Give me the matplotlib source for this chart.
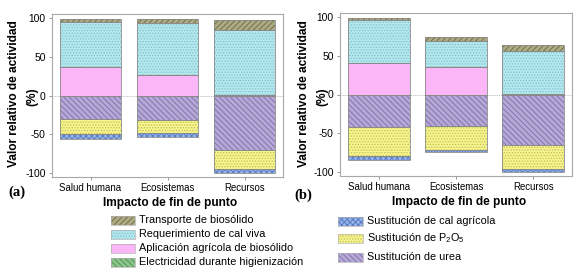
import matplotlib
matplotlib.use("Agg")
import matplotlib.pyplot as plt
from matplotlib.patches import Rectangle
import numpy as np

plt.rcParams['font.family'] = ['Liberation Sans', 'DejaVu Sans']
plt.rcParams['hatch.linewidth'] = 0.6
plt.rcParams['mathtext.default'] = 'regular'

categories = ["Salud humana", "Ecosistemas", "Recursos"]

# Panel (a)
a_aplicacion = [37, 26, 0.0]
a_electricidad = [0.3, 0.3, 0.3]
a_cal_viva = [57.7, 67.7, 84.7]
a_transporte = [3, 4, 12]
a_urea = [-30, -31, -70]
a_p2o5 = [-20, -17, -25]
a_cal_agricola = [-6, -5, -5]

# Panel (b)
b_aplicacion = [40, 35, 0.0]
b_electricidad = [0.3, 0.3, 0.3]
b_cal_viva = [55.7, 33.7, 55.2]
b_transporte = [3, 5, 8]
b_urea = [-42, -40, -65]
b_p2o5 = [-37, -31, -31]
b_cal_agricola = [-6, -3, -4]

legA_labels = ["Transporte de biosólido", "Requerimiento de cal viva",
               "Aplicación agrícola de biosólido", "Electricidad durante higienización"]
legB_labels = ["Sustitución de cal agrícola", "Sustitución de P$_2$O$_5$",
               "Sustitución de urea"]

styles = {
    "transporte": dict(fc="#aeaa82", hc="#6a6848", hatch="//////"),
    "cal_viva": dict(fc="#b5e8ee", hc="#80c0ca", hatch="......"),
    "aplicacion": dict(fc="#fbb6f8", hc="#fbb6f8", hatch=None),
    "electricidad": dict(fc="#8cc28c", hc="#4f8f4f", hatch="\\\\\\\\\\\\"),
    "cal_agricola": dict(fc="#93b4e8", hc="#5676c0", hatch="xxxxxx"),
    "p2o5": dict(fc="#f6f48c", hc="#c2bc5a", hatch="......"),
    "urea": dict(fc="#b6a8d6", hc="#7b6ca6", hatch="\\\\\\\\\\\\"),
}
edge = "#8a8a8a"

fig = plt.figure(figsize=(5.83, 2.75), dpi=100)
W, H = 583, 275
R = fig.canvas.get_renderer()

def fx(px):
    return px / W

def fy(py):
    return 1 - py / H

def ax_at(l, t, r, b):
    return fig.add_axes([l / W, 1 - b / H, (r - l) / W, (b - t) / H])

axA = ax_at(52, 14, 283, 177)
axB = ax_at(340, 13, 572, 176)

def fit(t, target, dim="w"):
    bb = t.get_window_extent(R)
    cur = bb.width if dim == "w" else bb.height
    t.set_fontsize(t.get_fontsize() * target / cur)
    return t.get_fontsize()

def draw_bar(ax, x, bottom, h, key):
    s = styles[key]
    ax.bar(x, h, bottom=bottom, width=0.8, color=s["fc"], edgecolor=s["hc"],
           hatch=s["hatch"], linewidth=0, zorder=2)
    ax.bar(x, h, bottom=bottom, width=0.8, facecolor="none", edgecolor=edge,
           linewidth=0.6, zorder=3)

def panel(ax, pos_series, neg_series):
    x = np.arange(len(categories))
    bottom = np.zeros(len(categories))
    for key, vals in pos_series:
        v = np.array(vals, dtype=float)
        draw_bar(ax, x, bottom, v, key)
        bottom = bottom + v
    bottom = np.zeros(len(categories))
    for key, vals in neg_series:
        v = np.array(vals, dtype=float)
        draw_bar(ax, x, bottom, v, key)
        bottom = bottom + v
    ax.set_xlim(-0.5, 2.5)
    ax.set_ylim(-105, 105)
    ax.set_yticks([-100, -50, 0, 50, 100])
    ax.set_yticklabels(["-100", "-50", "0", "50", "100"])
    ax.set_xticks(x)
    ax.set_xticklabels(categories)
    ax.axhline(0, color="#9a9a9a", lw=0.6, ls=(0, (1, 1.5)), zorder=1)
    for sp in ax.spines.values():
        sp.set_color("#a8a8a8")
        sp.set_linewidth(0.8)
    ax.tick_params(axis="y", length=2.5, width=0.6, color="#888888", pad=2)
    ax.tick_params(axis="x", length=2, width=0.6, color="#888888", pad=2)

panel(axA,
      [("aplicacion", a_aplicacion), ("electricidad", a_electricidad),
       ("cal_viva", a_cal_viva), ("transporte", a_transporte)],
      [("urea", a_urea), ("p2o5", a_p2o5), ("cal_agricola", a_cal_agricola)])
panel(axB,
      [("aplicacion", b_aplicacion), ("electricidad", b_electricidad),
       ("cal_viva", b_cal_viva), ("transporte", b_transporte)],
      [("urea", b_urea), ("p2o5", b_p2o5), ("cal_agricola", b_cal_agricola)])

# fit tick label sizes
fig.canvas.draw()
xs = fit(axA.get_xticklabels()[0], 62)
ys = fit(axA.get_yticklabels()[-1], 17)
for ax in (axA, axB):
    ax.tick_params(axis="x", labelsize=xs)
    ax.tick_params(axis="y", labelsize=ys)

# y labels
for x1, x2 in ((14, 32), (304, 322)):
    t1 = fig.text(fx(x1), fy(94), "Valor relativo de actividad", rotation=90,
                  fontsize=8, fontweight="bold", ha="center", va="center")
    s = fit(t1, 147, "h")
    fig.text(fx(x2), fy(97), "(%)", rotation=90, fontsize=s, fontweight="bold",
             ha="center", va="center")

# x labels
for xc, yc in ((170, 203), (459, 202)):
    t = fig.text(fx(xc), fy(yc), "Impacto de fin de punto", fontsize=9,
                 fontweight="bold", ha="center", va="center")
    fit(t, 134)

fig.text(fx(8), fy(192), "(a)", fontsize=10.5, fontweight="bold",
         family=["Liberation Serif"], ha="left", va="center")
fig.text(fx(294), fy(195), "(b)", fontsize=10.5, fontweight="bold",
         family=["Liberation Serif"], ha="left", va="center")

# legends (drawn as patches + text in figure coordinates)
tref = fig.text(0, 0, legA_labels[0], fontsize=8)
ls = fit(tref, 114)
tref.remove()

def legend_entry(key, label, x0, x1, yc, tx):
    s = styles[key]
    h = 9
    fig.add_artist(Rectangle((fx(x0), fy(yc + h / 2)), (x1 - x0) / W, h / H,
                             transform=fig.transFigure, facecolor=s["fc"],
                             edgecolor=s["hc"], hatch=s["hatch"], linewidth=0))
    fig.add_artist(Rectangle((fx(x0), fy(yc + h / 2)), (x1 - x0) / W, h / H,
                             transform=fig.transFigure, facecolor="none",
                             edgecolor="#b0b0b0", linewidth=0.5))
    fig.text(fx(tx), fy(yc), label, fontsize=ls, ha="left", va="center")

for key, label, yc in zip(["transporte", "cal_viva", "aplicacion", "electricidad"],
                          legA_labels, [220, 234, 248, 262]):
    legend_entry(key, label, 111, 135, yc, 139)

for key, label, yc in zip(["cal_agricola", "p2o5", "urea"],
                          legB_labels, [221, 238, 257]):
    legend_entry(key, label, 338, 363, yc, 367)

fig.savefig("out.png", dpi=100)
